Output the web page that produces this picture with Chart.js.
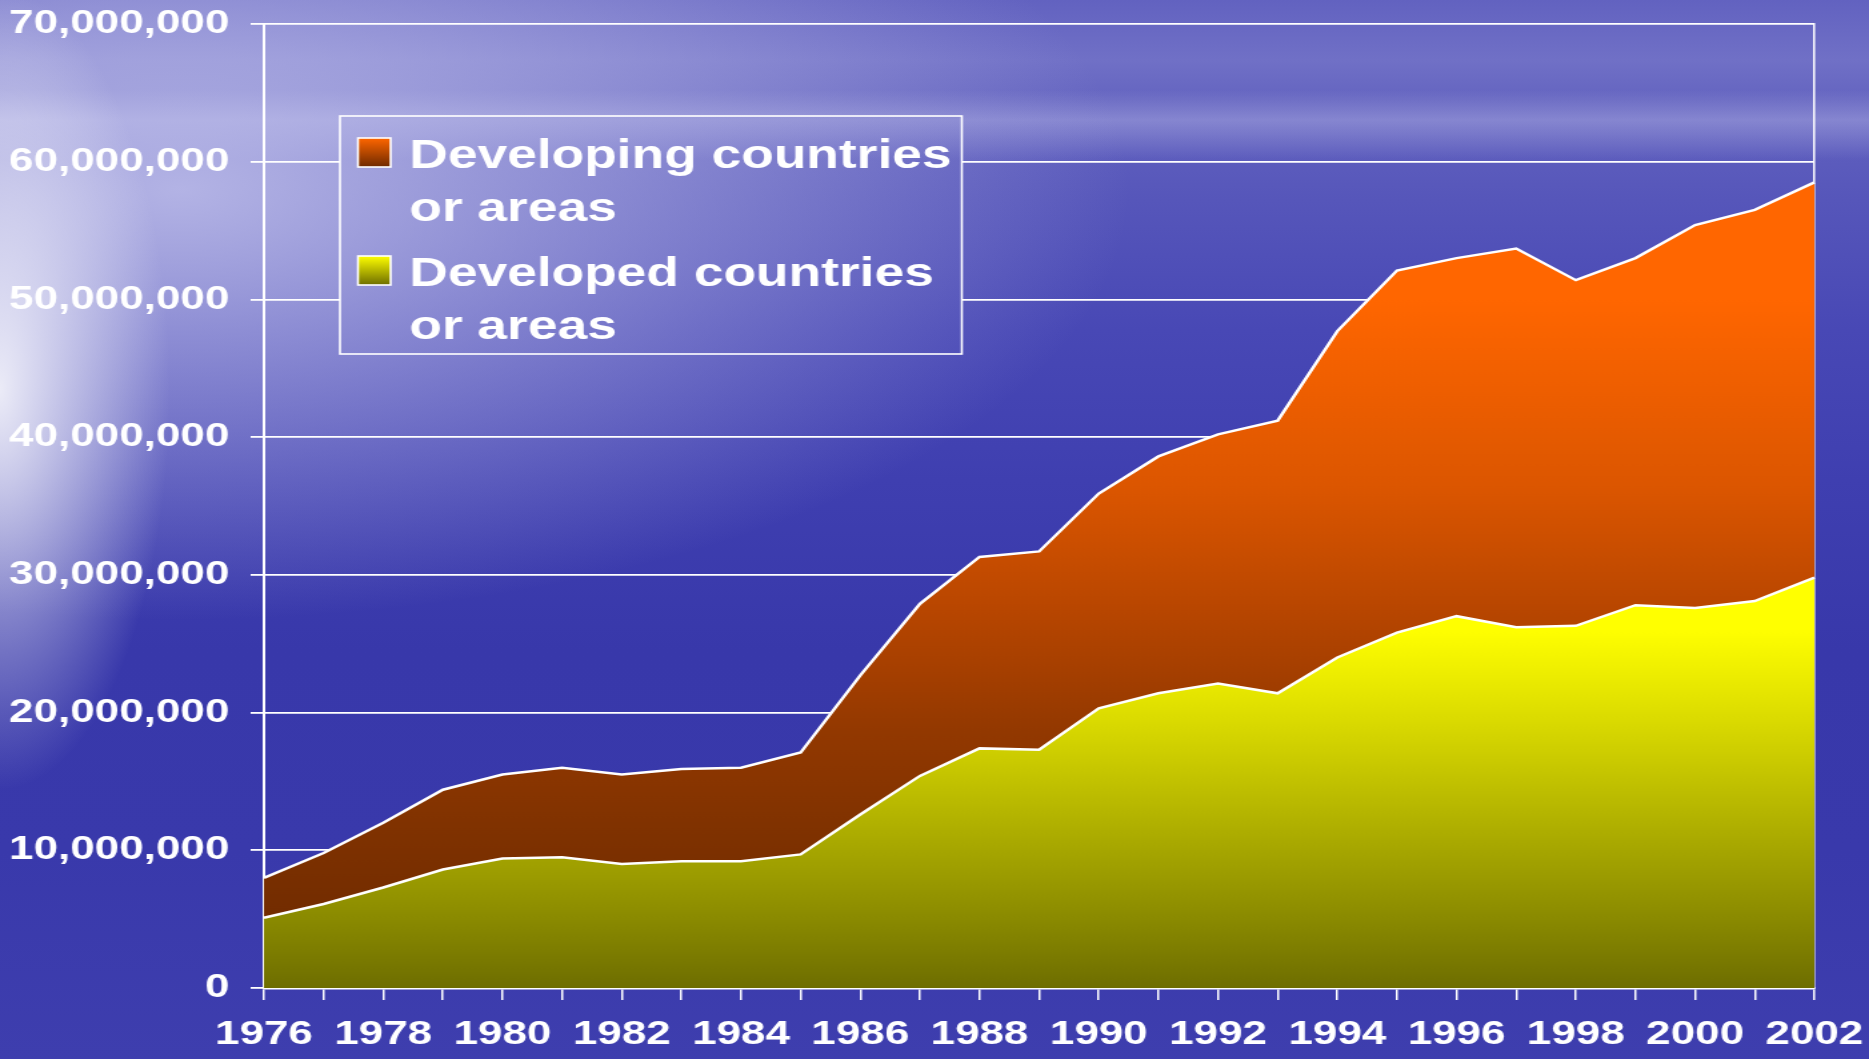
<!DOCTYPE html>
<html>
<head>
<meta charset="utf-8">
<script src="https://cdn.jsdelivr.net/npm/chart.js@4.4.1/dist/chart.umd.min.js"></script>
<style>
html, body { margin: 0; padding: 0; width: 1869px; height: 1059px; overflow: hidden; }
body {
    background:
        radial-gradient(ellipse 170px 400px at 0px 390px, rgba(255,255,255,0.85), rgba(255,255,255,0) 100%),
        radial-gradient(ellipse 950px 430px at 180px 190px, rgba(195,195,236,0.85), rgba(195,195,236,0) 100%),
        linear-gradient(to bottom, rgba(170,170,225,0) 90px, rgba(170,170,225,0.5) 120px, rgba(170,170,225,0) 160px),
        linear-gradient(to bottom, #6262c0 0px, #7070c6 60px, #6464c0 100px, #5656ba 200px, #4848b5 330px, #3f3fb0 480px, #3838aa 650px, #3939ab 850px, #3e3eae 1059px);
}
#wrap { position: absolute; left: 0; top: 0; width: 1402px; height: 1059px; transform: scaleX(1.3331); transform-origin: 0 0; }
</style>
</head>
<body>
<div id="wrap"><canvas id="myChart"></canvas></div>
<script>
var years = ["1976", "1977", "1978", "1979", "1980", "1981", "1982", "1983", "1984", "1985",
    "1986", "1987", "1988", "1989", "1990", "1991", "1992", "1993", "1994", "1995",
    "1996", "1997", "1998", "1999", "2000", "2001", "2002"];
var developed = [5100000, 6100000, 7300000, 8600000, 9400000, 9500000, 9000000, 9200000, 9200000, 9700000,
    12600000, 15400000, 17400000, 17300000, 20300000, 21400000, 22100000, 21400000, 24000000, 25800000,
    27000000, 26200000, 26300000, 27800000, 27600000, 28100000, 29800000];
var developing = [2900000, 3700000, 4700000, 5800000, 6100000, 6500000, 6500000, 6700000, 6800000, 7400000,
    10100000, 12500000, 13900000, 14400000, 15600000, 17200000, 18100000, 19800000, 23700000, 26300000,
    26000000, 27500000, 25100000, 25200000, 27800000, 28400000, 28700000];
var seriesNames = ["Developed countries or areas", "Developing countries or areas"];
var yTicks = [0, 10000000, 20000000, 30000000, 40000000, 50000000, 60000000, 70000000];

var fontFamily = "'Liberation Sans', Arial, sans-serif";
Chart.defaults.font.family = fontFamily;
Chart.defaults.font.weight = "bold";
Chart.defaults.color = "#ffffff";

// Gradient fills
function yellowFill(context){
    let chart = context.chart;
    if (!chart.chartArea) return "#c8c800";
    let y = chart.scales.y;
    let g = chart.ctx.createLinearGradient(0, y.getPixelForValue(26000000), 0, y.getPixelForValue(0));
    g.addColorStop(0, "#ffff00");
    g.addColorStop(1, "#6e6e00");
    return g;
}
function orangeFill(context){
    let chart = context.chart;
    if (!chart.chartArea) return "#c04a00";
    let y = chart.scales.y;
    let g = chart.ctx.createLinearGradient(0, y.getPixelForValue(50000000), 0, y.getPixelForValue(5000000));
    g.addColorStop(0, "#ff6600");
    g.addColorStop(0.3, "#dc5600");
    g.addColorStop(0.5, "#b84600");
    g.addColorStop(0.7, "#923800");
    g.addColorStop(0.85, "#803200");
    g.addColorStop(1, "#722c00");
    return g;
}

// Legend box drawn over the plot, its inside shows the page background
var legendBox = {
    id: "legendBox",
    afterDraw: function (chart){
        let ctx = chart.ctx;
        let left = 255, top = 116, right = 721.5, bottom = 354;
        let textX = 307, swX = 268.5, swW = 24.5, swH = 29;
        let baselines = [168, 286];
        let lineGap = 53;
        let swatchStops = [["#ffff00", "#6e6e00"], ["#ff6600", "#6e2a00"]];
        ctx.save();
        ctx.clearRect(left, top, right - left, bottom - top);
        ctx.strokeStyle = "#ffffff";
        ctx.lineWidth = 1.6;
        ctx.strokeRect(left, top, right - left, bottom - top);
        ctx.font = "bold 40px " + fontFamily;
        ctx.textBaseline = "alphabetic";
        [1, 0].forEach(function (di, k){
            let base = baselines[k];
            let sy = base - 30;
            let g = ctx.createLinearGradient(0, sy, 0, sy + swH);
            g.addColorStop(0, swatchStops[di][0]);
            g.addColorStop(1, swatchStops[di][1]);
            ctx.fillStyle = g;
            ctx.fillRect(swX, sy, swW, swH);
            ctx.lineWidth = 1.6;
            ctx.strokeStyle = "#ffffff";
            ctx.strokeRect(swX, sy, swW, swH);
            // wrap label text
            let words = chart.data.datasets[di].label.split(" ");
            let lines = [], cur = "";
            let maxW = right - textX - 4;
            words.forEach(function (w){
                let test = cur ? cur + " " + w : w;
                if (ctx.measureText(test).width > maxW && cur){
                    lines.push(cur);
                    cur = w;
                }else{
                    cur = test;
                }
            });
            lines.push(cur);
            ctx.fillStyle = "#ffffff";
            lines.forEach(function (t, j){
                ctx.fillText(t, textX, base + j * lineGap);
            });
        });
        ctx.restore();
    }
};

new Chart("myChart", {
    type: "line",
    data: {
        labels: years,
        datasets: [{
            label: seriesNames[0],
            data: developed,
            backgroundColor: yellowFill,
            borderColor: "#ffffff",
            borderWidth: 2.5,
            fill: "origin",
            pointRadius: 0,
            tension: 0
        }, {
            label: seriesNames[1],
            data: developing,
            backgroundColor: orangeFill,
            borderColor: "#ffffff",
            borderWidth: 2.5,
            fill: "-1",
            pointRadius: 0,
            tension: 0
        }]
    },
    options: {
        responsive: true,
        maintainAspectRatio: false,
        animation: false,
        events: [],
        layout: {
            padding: {top: 24, right: 41, bottom: 0, left: 0}
        },
        plugins: {
            legend: {display: false},
            tooltip: {enabled: false}
        },
        scales: {
            x: {
                offset: false,
                grid: {drawOnChartArea: false, drawTicks: true, tickLength: 12, color: "#ffffff", lineWidth: 1.5},
                border: {color: "#ffffff", width: 2.5},
                ticks: {
                    autoSkip: false,
                    maxRotation: 0,
                    padding: 15,
                    font: {size: 33, weight: "bold"},
                    callback: function (v, i){ return i % 2 === 0 ? years[i] : ""; }
                },
                afterFit: function (s){
                    s.height = 71;
                    s.paddingLeft = 0;
                    s.paddingRight = 0;
                }
            },
            y: {
                stacked: true,
                min: 0,
                max: 70000000,
                afterBuildTicks: function (s){ s.ticks = yTicks.map(function (v){ return {value: v}; }); },
                grid: {color: "#ffffff", lineWidth: 1.8, tickLength: 10},
                border: {color: "#ffffff", width: 2},
                ticks: {
                    padding: 16,
                    font: {size: 33, weight: "bold"},
                    callback: function (v){ return v.toLocaleString("en-US"); }
                },
                afterFit: function (s){
                    s.width = 198;
                    s.paddingTop = 0;
                    s.paddingBottom = 0;
                }
            },
            y2: {
                position: "right",
                grid: {drawOnChartArea: false, drawTicks: false},
                border: {color: "#ffffff", width: 1.5},
                ticks: {display: false},
                afterFit: function (s){
                    s.width = 0;
                    s.paddingTop = 0;
                    s.paddingBottom = 0;
                }
            }
        }
    },
    plugins: [legendBox]
});
</script>
</body>
</html>
